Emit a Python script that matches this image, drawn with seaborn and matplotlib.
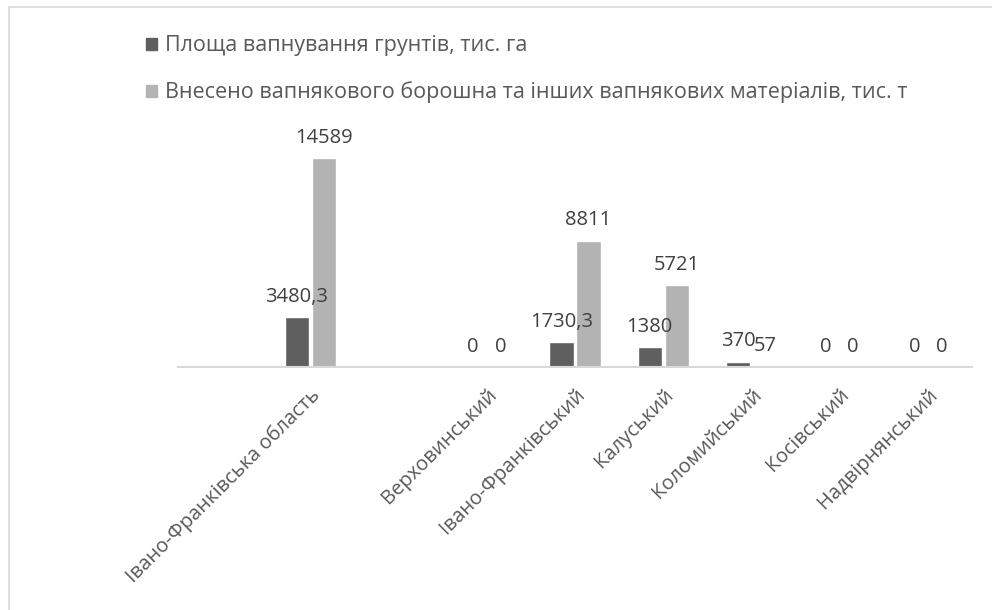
import numpy as np
import pandas as pd
import matplotlib.pyplot as plt
import matplotlib.patches as mpatches
import seaborn as sns

# data (blank slots are empty categories on the axis)
districts = ["", "Івано-Франківська область", " ", "Верховинський", "Івано-Франківський",
             "Калуський", "Коломийський", "Косівський", "Надвірнянський"]
real = ["Івано-Франківська область", "Верховинський", "Івано-Франківський",
        "Калуський", "Коломийський", "Косівський", "Надвірнянський"]
area = [3480.3, 0, 1730.3, 1380, 370, 0, 0]
lime = [14589, 0, 8811, 5721, 57, 0, 0]
series = ["Площа вапнування грунтів, тис. га",
          "Внесено вапнякового борошна та інших вапнякових матеріалів, тис. т"]
colors = ["#5f5f5f", "#b3b3b3"]

df = pd.DataFrame({
    "district": real * 2,
    "value": area + lime,
    "series": [series[0]] * len(real) + [series[1]] * len(real),
})

sns.set_style("white")
plt.rcParams['font.family'] = ['Open Sans', 'DejaVu Sans']

fig = plt.figure(figsize=(9.92, 6.10), dpi=100)
ax = fig.add_axes([178 / 992, 1 - 367 / 610, (972 - 178) / 992, (367 - 138) / 610])

sns.barplot(data=df, x="district", y="value", hue="series", order=districts,
            hue_order=series, palette=colors, width=0.614, gap=0.11,
            saturation=1, ax=ax, legend=False)

for cont in ax.containers:
    ax.bar_label(cont, labels=[f"{v:g}".replace(".", ",") for v in cont.datavalues],
                 padding=7.5, fontsize=14.5, color="#404040")

ax.set_ylim(0, 16000)
ax.set_xlim(-0.5, len(districts) - 0.5)
ax.set_xlabel("")
ax.set_ylabel("")
ax.set_yticks([])
for s in ["top", "left", "right"]:
    ax.spines[s].set_visible(False)
ax.spines["bottom"].set_color("#d9d9d9")
ax.spines["bottom"].set_linewidth(1.5)
ax.tick_params(axis="x", length=0, pad=13)
ax.set_xticks(range(len(districts)))
ax.set_xticklabels(districts, rotation=45, ha="right", rotation_mode="anchor",
                   fontsize=14.5, color="#595959")

handles = [mpatches.Patch(color=c) for c in colors]
fig.legend(handles, series, loc="upper left", bbox_to_anchor=(127 / 992, 1 - 16 / 610),
           frameon=False, fontsize=15.5, labelcolor="#595959", handlelength=0.5,
           handleheight=0.5, handletextpad=0.37, labelspacing=1.17)

fig.patches.append(mpatches.Rectangle((9 / 992, -0.05), 1.0, 1.05 - 7 / 610,
                                      transform=fig.transFigure, fill=False,
                                      edgecolor="#d9d9d9", linewidth=1.2))

fig.savefig("out.png", dpi=100)
